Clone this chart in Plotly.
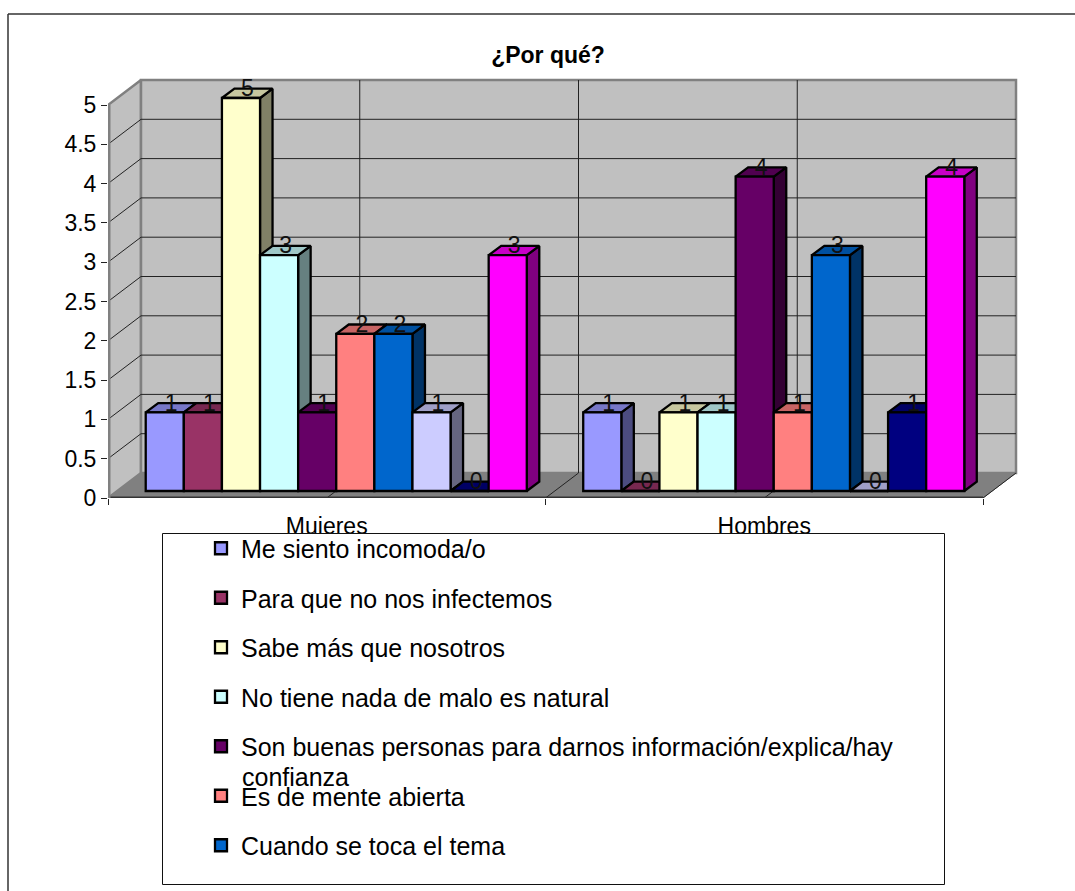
import plotly.graph_objects as go

# ---------- data ----------
categories = ["Mujeres", "Hombres"]
series_names = [
    "Me siento incomoda/o",
    "Para que no nos infectemos",
    "Sabe más que nosotros",
    "No tiene nada de malo es natural",
    "Son buenas personas para darnos información/explica/hay",
    "Es de mente abierta",
    "Cuando se toca el tema",
    "Serie 8",
    "Serie 9",
    "Serie 10",
]
mujeres = [1, 1, 5, 3, 1, 2, 2, 1, 0, 3]
hombres = [1, 0, 1, 1, 4, 1, 3, 0, 1, 4]
colors = ["#9999FF", "#993366", "#FFFFCC", "#CCFFFF", "#660066",
          "#FF8080", "#0066CC", "#CCCCFF", "#000080", "#FF00FF"]
y_ticks = [0, 0.5, 1, 1.5, 2, 2.5, 3, 3.5, 4, 4.5, 5]
y_ticktext = ["0", "0.5", "1", "1.5", "2", "2.5", "3", "3.5", "4", "4.5", "5"]
legend_count = 7

# ---------- layout constants (pixels) ----------
W, H = 1075, 891
L, R, T, B = 108, 983, 105, 498   # pixel box of the axis plane
PX = (R - L) / 2      # px per category
PY = (B - T) / 5      # px per value unit
FONT = "Liberation Sans"
AXIS_SIZE = 23
LEGEND_SIZE = 25
EDGE = 2.3

BX, BY = 9.5 / PX, 7 / PY        # front plane of the bars vs axis plane
DX, DY = 12.5 / PX, 9.3 / PY     # bar depth
WX, WY = 33 / PX, 25 / PY        # back wall vs axis plane
GAP = 0.129
BW = (1 - GAP) / len(series_names)

ymax = 5
xmax = len(categories)
X_END = xmax + WX + 4 / PX       # axis ranges reach past the back wall
Y_END = ymax + WY + 4 / PY
PLOT_R = L + X_END * PX
PLOT_T = B - Y_END * PY


def shade(hex_color, f):
    r, g, b = (int(hex_color[i:i + 2], 16) for i in (1, 3, 5))
    return f"rgb({round(r * f)},{round(g * f)},{round(b * f)})"


def front_x(group, i):
    return group + 0.5 + (i - (len(series_names) - 1) / 2) * BW


def poly_trace(xs, ys, fill, line="#000", width=EDGE):
    return go.Scatter(x=xs, y=ys, mode="lines", fill="toself", fillcolor=fill,
                      line=dict(color=line, width=width), hoverinfo="skip",
                      showlegend=False, cliponaxis=False, xaxis="x", yaxis="y")


def line_trace(xs, ys, color="#222", width=1):
    return go.Scatter(x=xs, y=ys, mode="lines", line=dict(color=color, width=width),
                      hoverinfo="skip", showlegend=False, cliponaxis=False,
                      xaxis="x", yaxis="y")


traces = []
# side wall, back wall, floor
traces.append(poly_trace([0, WX, WX, 0, 0], [0, WY, ymax + WY, ymax, 0], "#C0C0C0", "#808080", 2.5))
traces.append(poly_trace([WX, xmax + WX, xmax + WX, WX, WX], [WY, WY, ymax + WY, ymax + WY, WY],
                         "#C0C0C0", "#808080", 2.5))
traces.append(poly_trace([0, xmax, xmax + WX, WX, 0], [0, 0, WY, WY, 0], "#808080", "#808080", 1))

# gridlines
gx, gy = [], []
for v in y_ticks:
    if v in (0, ymax):
        continue
    gx += [0, WX, xmax + WX, None]
    gy += [v, v + WY, v + WY, None]
traces.append(line_trace(gx, gy))
vx, vy = [], []
for k in (0.5, 1, 1.5):
    vx += [k, k + WX, k + WX, None]
    vy += [0, WY, ymax + WY, None]
traces.append(line_trace(vx, vy))
traces.append(line_trace([xmax, xmax + WX], [0, WY]))
# front floor edge and left axis edge (half of the stroke falls on the plot edge)
traces.append(line_trace([0, xmax], [0, 0], "#333", 3))
traces.append(line_trace([0, 0], [0, ymax], "#808080", 5))

# 3D faces, painted series by series so that later faces overlap earlier ones
groups = [mujeres, hombres]
for i, c in enumerate(colors):
    sx, sy, tx, ty = [], [], [], []
    for g, vals in enumerate(groups):
        v = vals[i]
        x0 = front_x(g, i) - BW / 2 + BX
        x1 = x0 + BW
        y0 = BY
        yt = v + BY
        if v > 0:
            sx += [x1, x1 + DX, x1 + DX, x1, x1, None]
            sy += [y0, y0 + DY, yt + DY, yt, y0, None]
        tx += [x0, x1, x1 + DX, x0 + DX, x0, None]
        ty += [yt, yt, yt + DY, yt + DY, yt, None]
    traces.append(poly_trace(sx, sy, shade(c, 0.5)))
    traces.append(poly_trace(tx, ty, shade(c, 0.78)))

# front faces: real grouped bars on an overlaid pair of axes
for i, (name, c) in enumerate(zip(series_names, colors)):
    traces.append(go.Bar(
        x=[0.5, 1.5], y=[mujeres[i], hombres[i]], width=BW, name=name,
        marker=dict(color=c, line=dict(color="#000", width=EDGE)),
        xaxis="x2", yaxis="y2", cliponaxis=False,
        legendgroup=f"s{i}", showlegend=i < legend_count,
        customdata=categories, hovertemplate="%{customdata}: %{y}<extra>" + name + "</extra>",
    ))

# data labels
lab_x, lab_y, lab_t = [], [], []
for g, vals in enumerate(groups):
    for i, v in enumerate(vals):
        lab_x.append(front_x(g, i) + 6.5 / PX)
        lab_y.append(v + 7.5 / PY)
        lab_t.append(str(v))
traces.append(go.Scatter(x=lab_x, y=lab_y, text=lab_t, mode="text", textposition="middle center",
                         textfont=dict(family=FONT, size=AXIS_SIZE, color="#111"),
                         hoverinfo="skip", showlegend=False, cliponaxis=False,
                         xaxis="x2", yaxis="y2"))

fig = go.Figure(traces)


def px(x):
    return (x - L) / (PLOT_R - L)


def py(y):
    return (B - y) / (B - PLOT_T)


shapes = [
    dict(type="line", xref="paper", yref="paper", x0=px(8), x1=px(W + 5), y0=py(14), y1=py(14),
         line=dict(color="#333", width=1.5), layer="below"),
    dict(type="line", xref="paper", yref="paper", x0=px(8), x1=px(8), y0=py(14), y1=py(H + 5),
         line=dict(color="#333", width=1.5), layer="below"),
    dict(type="rect", xref="paper", yref="paper", x0=px(162.5), x1=px(944.5), y0=py(533.5), y1=py(884.5),
         fillcolor="#FFFFFF", line=dict(color="#111", width=1), layer="above"),
]

annotations = [
    dict(text="confianza", xref="paper", yref="paper", x=px(241), y=py(777), xanchor="left", yanchor="middle",
         xshift=-1, showarrow=False, font=dict(family=FONT, size=LEGEND_SIZE, color="#000")),
]

fig.update_layout(
    width=W, height=H, autosize=False,
    margin=dict(l=L, r=W - PLOT_R, t=PLOT_T, b=H - B, pad=0),
    paper_bgcolor="#FFFFFF", plot_bgcolor="rgba(0,0,0,0)",
    barmode="group", bargap=GAP, bargroupgap=0,
    font=dict(family=FONT, color="#000"),
    title=dict(text="<b>¿Por qué?</b>", x=548 / W, xanchor="center", y=1 - 55 / H, yanchor="middle",
               font=dict(family=FONT, size=23, color="#000")),
    showlegend=True,
    legend=dict(x=px(201), y=py(525.5), xanchor="left", yanchor="top", bgcolor="rgba(0,0,0,0)",
                borderwidth=0, tracegroupgap=14, traceorder="grouped",
                font=dict(family=FONT, size=LEGEND_SIZE, color="#000")),
    shapes=shapes, annotations=annotations,
    xaxis=dict(range=[0, X_END], tickmode="array", tickvals=[0.5, 1.5], ticktext=categories,
               ticks="", ticklabelstandoff=12, showgrid=False, zeroline=False, showline=False,
               tickfont=dict(family=FONT, size=AXIS_SIZE, color="#000"),
               minor=dict(tickvals=[0, 1, 2], ticks="outside", ticklen=6, tickcolor="#222", tickwidth=1)),
    yaxis=dict(range=[0, Y_END], tickmode="array", tickvals=y_ticks, ticktext=y_ticktext,
               ticks="outside", ticklen=6, tickcolor="#222", tickwidth=1, showgrid=False, zeroline=False,
               showline=False, tickfont=dict(family=FONT, size=AXIS_SIZE, color="#000")),
    xaxis2=dict(range=[-BX, X_END - BX], overlaying="x", visible=False),
    yaxis2=dict(range=[-BY, Y_END - BY], overlaying="y", visible=False),
)

fig.write_html("out.html", post_script="document.body.style.margin='0';",
               config={"displayModeBar": False})
